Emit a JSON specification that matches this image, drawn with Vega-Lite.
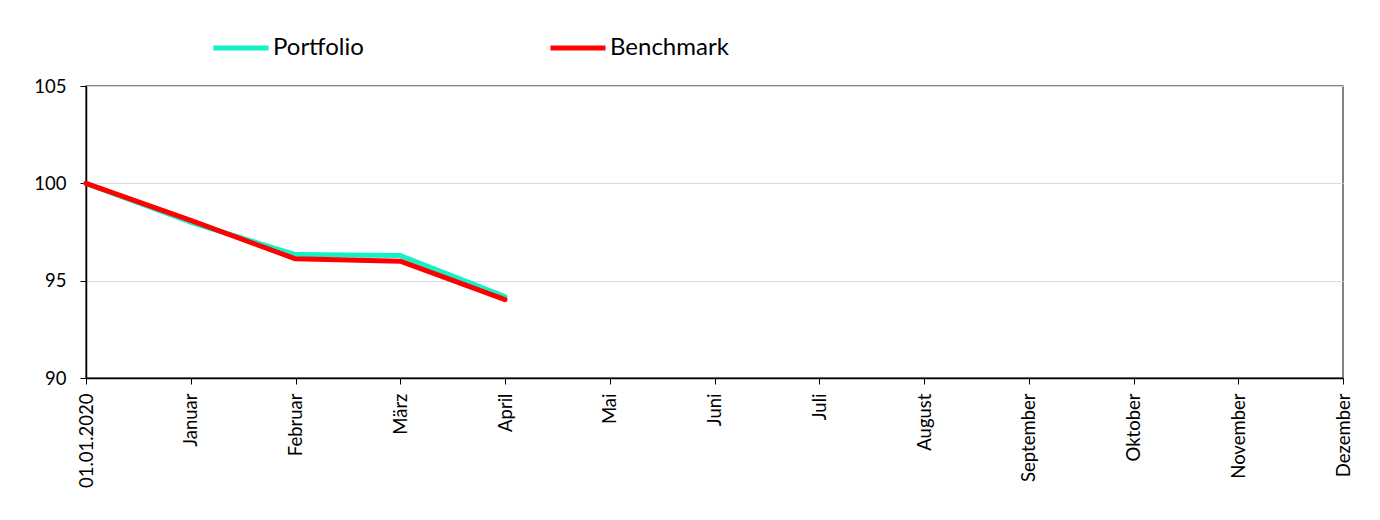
{
  "$schema": "https://vega.github.io/schema/vega-lite/v6.json",
  "autosize": "none",
  "width": 1257,
  "height": 292,
  "padding": {"left": 86, "top": 86, "right": 37, "bottom": 142},
  "background": "white",
  "config": {
    "font": "Lato",
    "view": {"stroke": "#595959", "strokeWidth": 1.5},
    "axis": {"labelFont": "Lato", "labelColor": "#000000", "labelFontSize": 18.5, "domainColor": "#000000", "tickColor": "#000000", "tickSize": 6, "titleFontSize": 0}
  },
  "data": {
    "values": [
      {"month": "01.01.2020", "series": "Portfolio", "value": 100},
      {"month": "Januar", "series": "Portfolio", "value": 98.0},
      {"month": "Februar", "series": "Portfolio", "value": 96.34},
      {"month": "März", "series": "Portfolio", "value": 96.29},
      {"month": "April", "series": "Portfolio", "value": 94.18},
      {"month": "01.01.2020", "series": "Benchmark", "value": 100},
      {"month": "Januar", "series": "Benchmark", "value": 98.1},
      {"month": "Februar", "series": "Benchmark", "value": 96.12},
      {"month": "März", "series": "Benchmark", "value": 96.0},
      {"month": "April", "series": "Benchmark", "value": 94.03}
    ]
  },
  "encoding": {
    "x": {
      "field": "month", "type": "ordinal", "title": null,
      "scale": {"type": "point", "padding": 0, "domain": ["01.01.2020", "Januar", "Februar", "März", "April", "Mai", "Juni", "Juli", "August", "September", "Oktober", "November", "Dezember"]},
      "axis": {"labelAngle": -90, "labelAlign": "right", "labelBaseline": "middle", "labelPadding": 9, "grid": false, "domainWidth": 1.5}
    },
    "y": {
      "field": "value", "type": "quantitative", "title": null,
      "scale": {"domain": [90, 105], "nice": false, "zero": false},
      "axis": {"values": [90, 95, 100, 105], "grid": true, "gridColor": "#d9d9d9", "gridWidth": 1, "labelPadding": 14, "domainWidth": 1.5}
    },
    "color": {
      "field": "series", "type": "nominal",
      "scale": {"domain": ["Portfolio", "Benchmark"], "range": ["#14F0C8", "#FF0000"]},
      "legend": {
        "title": null, "orient": "none", "direction": "horizontal", "legendX": 125, "legendY": -68,
        "symbolType": "stroke", "symbolSize": 3025, "symbolStrokeWidth": 5,
        "labelFontSize": 24, "labelFont": "Lato", "labelColor": "#000000", "labelOffset": 2,
        "gridAlign": "all", "columnPadding": 148
      }
    }
  },
  "layer": [
    {
      "transform": [{"filter": "datum.series === 'Portfolio'"}],
      "mark": {"type": "line", "strokeWidth": 5, "strokeJoin": "round", "strokeCap": "round"}
    },
    {
      "transform": [{"filter": "datum.series === 'Benchmark'"}],
      "mark": {"type": "line", "strokeWidth": 5, "strokeJoin": "round", "strokeCap": "round"}
    }
  ]
}
